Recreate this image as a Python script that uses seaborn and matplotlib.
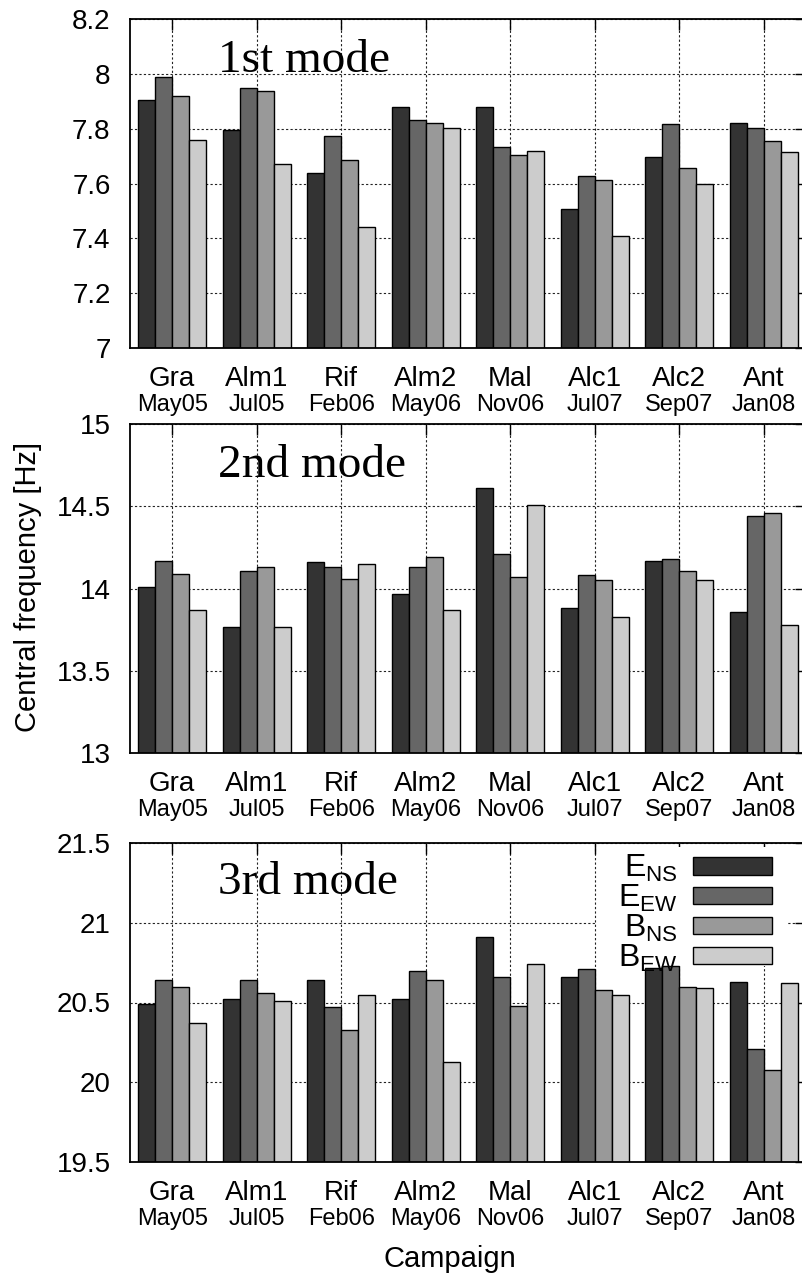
import numpy as np
import pandas as pd
import matplotlib
matplotlib.use('Agg')
import matplotlib.pyplot as plt
from matplotlib.patches import Patch, Rectangle
from matplotlib.ticker import FormatStrFormatter
import seaborn as sns

# campaigns and components
campaigns = ['Gra', 'Alm1', 'Rif', 'Alm2', 'Mal', 'Alc1', 'Alc2', 'Ant']
dates = ['May05', 'Jul05', 'Feb06', 'May06', 'Nov06', 'Jul07', 'Sep07', 'Jan08']
components = ['ENS', 'EEW', 'BNS', 'BEW']
comp_labels = [r'$\mathregular{E_{NS}}$', r'$\mathregular{E_{EW}}$',
               r'$\mathregular{B_{NS}}$', r'$\mathregular{B_{EW}}$']
colors = ['#333333', '#666666', '#999999', '#cccccc']

# 1st mode
mode1_ens = [7.905, 7.796, 7.64, 7.88, 7.88, 7.506, 7.696, 7.819]
mode1_eew = [7.99, 7.95, 7.772, 7.832, 7.732, 7.629, 7.816, 7.803]
mode1_bns = [7.92, 7.937, 7.686, 7.819, 7.703, 7.612, 7.656, 7.754]
mode1_bew = [7.76, 7.67, 7.44, 7.803, 7.718, 7.41, 7.60, 7.714]

# 2nd mode
mode2_ens = [14.01, 13.77, 14.16, 13.97, 14.61, 13.88, 14.17, 13.86]
mode2_eew = [14.17, 14.11, 14.13, 14.13, 14.21, 14.08, 14.18, 14.44]
mode2_bns = [14.09, 14.13, 14.06, 14.19, 14.07, 14.05, 14.11, 14.46]
mode2_bew = [13.87, 13.77, 14.15, 13.87, 14.51, 13.83, 14.05, 13.78]

# 3rd mode
mode3_ens = [20.49, 20.52, 20.64, 20.52, 20.91, 20.66, 20.715, 20.63]
mode3_eew = [20.64, 20.64, 20.47, 20.70, 20.66, 20.71, 20.73, 20.21]
mode3_bns = [20.60, 20.56, 20.33, 20.64, 20.48, 20.58, 20.60, 20.08]
mode3_bew = [20.37, 20.51, 20.55, 20.13, 20.74, 20.55, 20.59, 20.62]

modes = [
    ('1st mode', [mode1_ens, mode1_eew, mode1_bns, mode1_bew], (7, 8.2), np.arange(7, 8.21, 0.2)),
    ('2nd mode', [mode2_ens, mode2_eew, mode2_bns, mode2_bew], (13, 15), np.arange(13, 15.01, 0.5)),
    ('3rd mode', [mode3_ens, mode3_eew, mode3_bns, mode3_bew], (19.5, 21.5), np.arange(19.5, 21.51, 0.5)),
]

sns.set_style('white')
plt.rcParams['font.family'] = ['Liberation Sans', 'DejaVu Sans']
plt.rcParams['mathtext.default'] = 'regular'
for key in ['text.color', 'axes.labelcolor', 'xtick.color', 'ytick.color', 'axes.edgecolor']:
    plt.rcParams[key] = 'black'

fig = plt.figure(figsize=(8.02, 12.76), dpi=100)

# axes boxes in pixels (top, bottom) of the 1276 px tall figure
boxes = [(19, 348), (424, 753.3), (842.7, 1162.3)]
left, width = 130 / 802, 676 / 802

axes = []
for (title, series, ylim, yticks), (top, bottom) in zip(modes, boxes):
    ax = fig.add_axes([left, (1276 - bottom) / 1276, width, (bottom - top) / 1276])
    df = pd.DataFrame({
        'campaign': campaigns * 4,
        'component': np.repeat(components, len(campaigns)),
        'freq': np.concatenate(series),
    })
    sns.barplot(data=df, x='campaign', y='freq', hue='component',
                order=campaigns, hue_order=components, palette=colors,
                errorbar=None, width=0.8, edgecolor='black', linewidth=1,
                legend=False, ax=ax)
    ax.set_ylim(*ylim)
    ax.set_xlim(-0.5, len(campaigns) - 0.5)
    ax.set_yticks(yticks)
    ax.yaxis.set_major_formatter(FormatStrFormatter('%g'))
    ax.set_xticks(range(len(campaigns)))
    ax.set_xticklabels(campaigns, fontsize=20)
    ax.set_xlabel('')
    ax.set_ylabel('')
    ax.tick_params(axis='y', labelsize=20, pad=14)
    ax.tick_params(axis='x', pad=13)
    ax.tick_params(direction='in', length=8, width=1, top=True, right=True,
                   colors='black')
    ax.grid(True, color='#222222', linestyle=(0, (2, 2)), linewidth=0.8)
    ax.set_axisbelow(True)
    for s in ax.spines.values():
        s.set_visible(True)
        s.set_color('black')
        s.set_linewidth(1.3)
    for i, d in enumerate(dates):
        ax.annotate(d, xy=(i, 0), xycoords=('data', 'axes fraction'),
                    xytext=(0, -41), textcoords='offset points',
                    ha='center', va='center', fontsize=17)
    ax.text(0.13, 0.84, title, transform=ax.transAxes, fontsize=34,
            family=['Liberation Serif', 'DejaVu Serif'], va='baseline', ha='left')
    axes.append(ax)

# white key area hiding the grid, under the bars
axes[2].add_patch(Rectangle((0.691, 0.614), 0.281, 0.372, transform=axes[2].transAxes,
                            facecolor='white', edgecolor='none', zorder=0.8))
handles = [Patch(facecolor=c, edgecolor='black', linewidth=1) for c in colors]
axes[2].legend(handles, comp_labels, loc='upper right', bbox_to_anchor=(0.95, 0.967),
               markerfirst=False, fontsize=23, handlelength=2.47, handleheight=0.47,
               labelspacing=-0.04, handletextpad=0.5, borderpad=0.0,
               borderaxespad=0, frameon=False)

fig.text(28 / 802, (1276 - 587) / 1276, 'Central frequency [Hz]', rotation=90,
         ha='center', va='center', fontsize=21)
fig.text(450 / 802, 9 / 1276, 'Campaign', ha='center', va='baseline', fontsize=21)

fig.savefig('out.png', dpi=100)
